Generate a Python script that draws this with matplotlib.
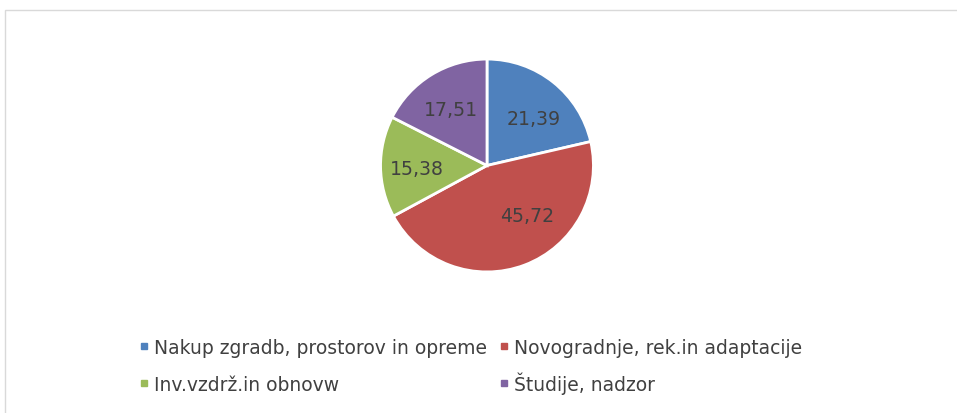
"""Pie chart: share of investment categories (values in %)."""

import matplotlib
matplotlib.use("Agg")
import matplotlib.pyplot as plt
import numpy as np
from matplotlib.lines import Line2D
from matplotlib.patches import Rectangle

categories = [
    "Nakup zgradb, prostorov in opreme",
    "Novogradnje, rek.in adaptacije",
    "Inv.vzdrž.in obnovw",
    "Študije, nadzor",
]
values = [21.39, 45.72, 15.38, 17.51]
colors = ["#4F81BD", "#C0504D", "#9BBB59", "#8064A2"]

# label placement tweaks (Excel "best fit" style), per slice
label_dist = [0.62, 0.60, 0.66, 0.63]
label_angle_shift = [-6, 18, 1.5, 1.5]

# legend entry anchors in pixels (left, bottom-from-top), 2x2 grid
legend_x = [138.5, 498.5, 138.5, 498.5]
legend_y = [358, 358, 395, 395]

TEXT = "#404040"
plt.rcParams["font.family"] = ["DejaVu Sans"]

W, H = 957, 414
fig = plt.figure(figsize=(W / 100, H / 100), dpi=100)
fig.patch.set_facecolor("white")

# chart-area border (runs off the right and bottom edges)
fig.patches.append(Rectangle((4.5 / W, -0.05), 1.2, (H - 10.5) / H + 0.05,
                             transform=fig.transFigure, fill=False,
                             edgecolor="#d9d9d9", linewidth=1.0, zorder=0))

cx, cy, r = 487, 166.5, 107.5
ax = fig.add_axes([(cx - r) / W, (H - cy - r) / H, 2 * r / W, 2 * r / H])
wedges, _ = ax.pie(values, colors=colors, startangle=90, counterclock=False,
                   radius=1, wedgeprops=dict(edgecolor="white", linewidth=2.0))
ax.set_xlim(-1.01, 1.01)
ax.set_ylim(-1.01, 1.01)
ax.set_aspect("equal")
ax.axis("off")

for w, v, d, sh in zip(wedges, values, label_dist, label_angle_shift):
    mid = np.deg2rad((w.theta1 + w.theta2) / 2 + sh)
    ax.text(d * np.cos(mid), d * np.sin(mid), f"{v:.2f}".replace(".", ","),
            ha="center", va="center", fontsize=13.6, color=TEXT)

# legend: one single-entry legend per cell so baselines line up
for name, col, lx, ly in zip(categories, colors, legend_x, legend_y):
    h = Line2D([], [], marker="s", linestyle="none", markersize=5,
               markerfacecolor=col, markeredgecolor=col)
    leg = fig.legend([h], [name], loc="lower left",
                     bbox_to_anchor=(lx / W, (H - ly) / H),
                     frameon=False, fontsize=13.5, handlelength=0.6,
                     handletextpad=0.2, borderpad=0, borderaxespad=0)
    for t in leg.get_texts():
        t.set_color(TEXT)

fig.savefig("out.png", dpi=100)
